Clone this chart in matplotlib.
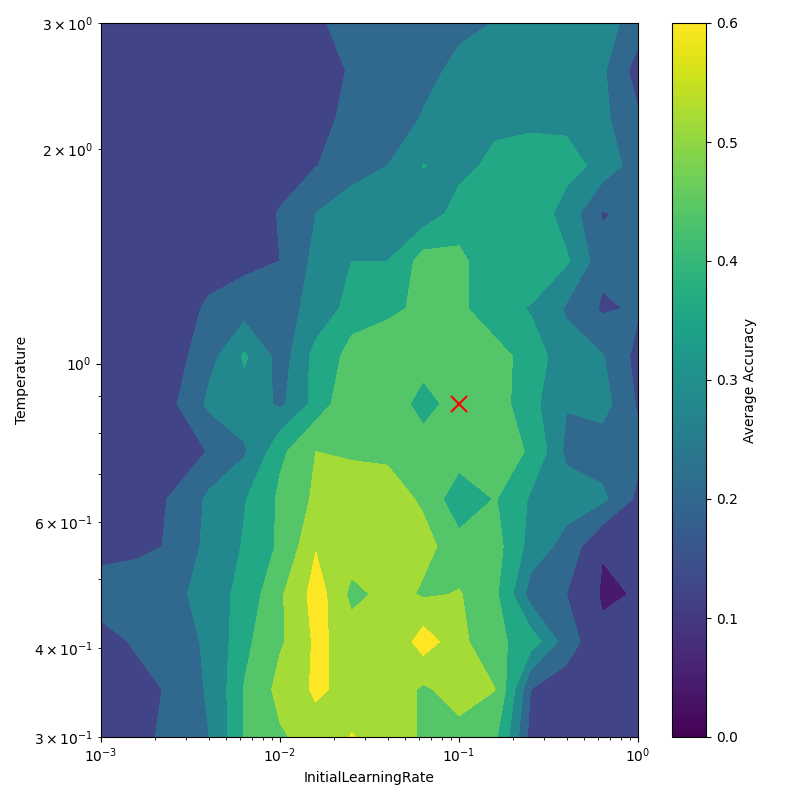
import matplotlib
matplotlib.use('Agg')
import matplotlib.pyplot as plt
from matplotlib.colors import Normalize
from matplotlib.cm import ScalarMappable

# hyperparameter grid (16 x 16, log spaced)
learning_rates = [0.001, 0.001585, 0.002512, 0.003981, 0.00631, 0.01, 0.01585, 0.02512,
                  0.03981, 0.0631, 0.1, 0.1585, 0.2512, 0.3981, 0.631, 1.0]
temperatures = [0.3, 0.34977, 0.40781, 0.47547, 0.55436, 0.64633, 0.75357, 0.8786,
                1.02437, 1.19433, 1.39248, 1.62352, 1.89289, 2.20695, 2.57311, 3.0]

# average accuracy, one row per temperature (low -> high), columns follow learning_rates
acc = [
    [0.128, 0.139, 0.185, 0.238, 0.405, 0.469, 0.523, 0.563, 0.523, 0.467, 0.448, 0.416, 0.128, 0.128, 0.128, 0.128],
    [0.128, 0.128, 0.177, 0.251, 0.403, 0.509, 0.574, 0.526, 0.523, 0.467, 0.523, 0.482, 0.16, 0.128, 0.128, 0.128],
    [0.128, 0.173, 0.213, 0.251, 0.384, 0.469, 0.576, 0.523, 0.49, 0.6, 0.5, 0.416, 0.363, 0.192, 0.096, 0.128],
    [0.203, 0.213, 0.219, 0.277, 0.352, 0.469, 0.597, 0.455, 0.512, 0.469, 0.485, 0.416, 0.203, 0.16, 0.07, 0.085],
    [0.128, 0.139, 0.171, 0.267, 0.327, 0.416, 0.555, 0.533, 0.533, 0.501, 0.437, 0.427, 0.288, 0.203, 0.085, 0.117],
    [0.128, 0.139, 0.165, 0.256, 0.315, 0.416, 0.497, 0.523, 0.505, 0.47, 0.33, 0.405, 0.309, 0.288, 0.256, 0.139],
    [0.117, 0.117, 0.128, 0.163, 0.229, 0.384, 0.48, 0.469, 0.469, 0.459, 0.459, 0.448, 0.387, 0.218, 0.203, 0.181],
    [0.117, 0.128, 0.149, 0.256, 0.288, 0.224, 0.352, 0.48, 0.469, 0.35, 0.47, 0.437, 0.341, 0.245, 0.267, 0.149],
    [0.117, 0.117, 0.128, 0.213, 0.331, 0.203, 0.352, 0.427, 0.448, 0.459, 0.459, 0.437, 0.352, 0.277, 0.245, 0.128],
    [0.117, 0.117, 0.128, 0.171, 0.203, 0.224, 0.256, 0.363, 0.384, 0.419, 0.416, 0.341, 0.315, 0.229, 0.149, 0.171],
    [0.117, 0.117, 0.117, 0.128, 0.139, 0.16, 0.267, 0.32, 0.32, 0.437, 0.416, 0.341, 0.373, 0.331, 0.181, 0.203],
    [0.117, 0.117, 0.117, 0.128, 0.139, 0.163, 0.24, 0.288, 0.32, 0.267, 0.363, 0.384, 0.373, 0.282, 0.155, 0.181],
    [0.117, 0.117, 0.117, 0.117, 0.128, 0.139, 0.158, 0.203, 0.24, 0.323, 0.288, 0.352, 0.363, 0.352, 0.288, 0.192],
    [0.117, 0.117, 0.117, 0.117, 0.117, 0.117, 0.139, 0.181, 0.213, 0.244, 0.277, 0.288, 0.299, 0.299, 0.256, 0.17],
    [0.117, 0.117, 0.117, 0.117, 0.117, 0.117, 0.133, 0.167, 0.203, 0.224, 0.256, 0.277, 0.288, 0.288, 0.251, 0.12],
    [0.117, 0.117, 0.117, 0.117, 0.117, 0.117, 0.149, 0.192, 0.203, 0.213, 0.225, 0.242, 0.277, 0.288, 0.267, 0.203],
]

levels = [0.0, 0.08, 0.16, 0.24, 0.32, 0.4, 0.48, 0.56, 0.64]

# marked configuration
best_lr = 0.1
best_temp = 0.8786

fig = plt.figure(figsize=(8, 8), dpi=100)
ax = fig.add_axes([0.12625, 0.07875, 0.67125, 0.8925])
cax = fig.add_axes([0.84, 0.07875, 0.0425, 0.8925])

norm = Normalize(vmin=0, vmax=0.6)
ax.contourf(learning_rates, temperatures, acc, levels=levels, cmap='viridis', norm=norm)
ax.plot(best_lr, best_temp, marker='x', color='red', markersize=12, markeredgewidth=1.5, linestyle='none')

ax.set_xscale('log')
ax.set_yscale('log')
ax.set_xlim(1e-3, 1)
ax.set_ylim(0.3, 3)
ax.set_xlabel('InitialLearningRate')
ax.set_ylabel('Temperature')

sm = ScalarMappable(norm=norm, cmap='viridis')
cb = fig.colorbar(sm, cax=cax)
cb.set_label('Average Accuracy')

fig.savefig('out.png', dpi=100)
